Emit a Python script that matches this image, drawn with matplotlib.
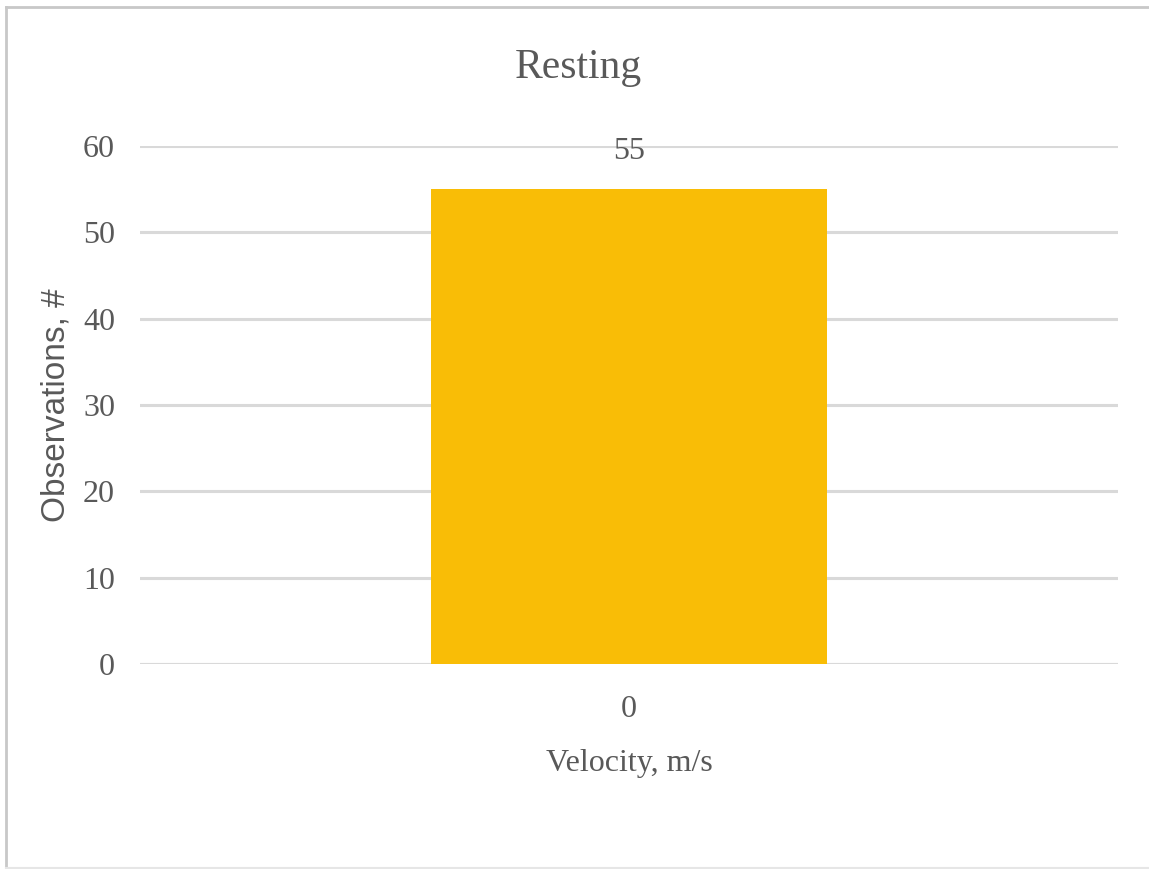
import matplotlib.pyplot as plt
from matplotlib.lines import Line2D

# chart data
categories = ['0']
observations = [55]
y_ticks = [0, 10, 20, 30, 40, 50, 60]

title = 'Resting'
x_label = 'Velocity, m/s'
y_label = 'Observations, #'

text_color = '#595959'
bar_color = '#F9BD06'
grid_color = '#D9D9D9'
serif = ['Liberation Serif', 'DejaVu Serif']
sans = ['Liberation Sans', 'DejaVu Sans']


def main():
	fig = plt.figure(figsize=(11.49, 8.69), dpi=100)
	W, H = 1149, 869
	# plot area in pixels: x 140..1118, y 146..664 (top-down)
	ax = fig.add_axes([140 / W, 1 - 664 / H, 978 / W, 518 / H])

	x = list(range(len(categories)))
	bars = ax.bar(x, observations, width=0.404, color=bar_color, zorder=3)
	ax.set_xlim(-0.5, len(categories) - 0.5)
	ax.set_ylim(0, 60)
	ax.set_yticks(y_ticks)
	ax.set_xticks(x)
	ax.set_xticklabels(categories)

	for lbl in ax.get_xticklabels() + ax.get_yticklabels():
		lbl.set_family(serif)
		lbl.set_fontsize(23)
		lbl.set_color(text_color)
	ax.tick_params(axis='both', length=0)
	ax.tick_params(axis='y', pad=18)
	ax.tick_params(axis='x', pad=22)

	ax.grid(axis='y', color=grid_color, linewidth=2.2, zorder=0)
	for s in ax.spines.values():
		s.set_visible(False)
	ax.axhline(0, color=grid_color, linewidth=2.2, zorder=2)

	for b, v in zip(bars, observations):
		ax.text(b.get_x() + b.get_width() / 2, 59.4, str(v), ha='center', va='center',
				family=serif, fontsize=23, color=text_color, zorder=4)

	ax.set_xlabel(x_label, family=serif, fontsize=23, color=text_color, labelpad=18)
	ax.set_ylabel(y_label, family=sans, fontsize=24, color=text_color, labelpad=8)
	fig.text(578 / W, 1 - 68 / H, title, ha='center', va='center',
			 family=serif, fontsize=30, color=text_color)

	# outer frame (left, top, bottom)
	fig.add_artist(Line2D([6 / W, 6 / W], [1 - 868 / H, 1 - 7 / H], transform=fig.transFigure,
						  color='#C8C8C8', linewidth=2))
	fig.add_artist(Line2D([6 / W, 1], [1 - 7 / H, 1 - 7 / H], transform=fig.transFigure,
						  color='#C8C8C8', linewidth=2))
	fig.add_artist(Line2D([6 / W, 1], [1 - 868 / H, 1 - 868 / H], transform=fig.transFigure,
						  color='#E6E6E6', linewidth=1.5))

	fig.savefig('out.png', dpi=100)


if __name__ == '__main__':
	main()
